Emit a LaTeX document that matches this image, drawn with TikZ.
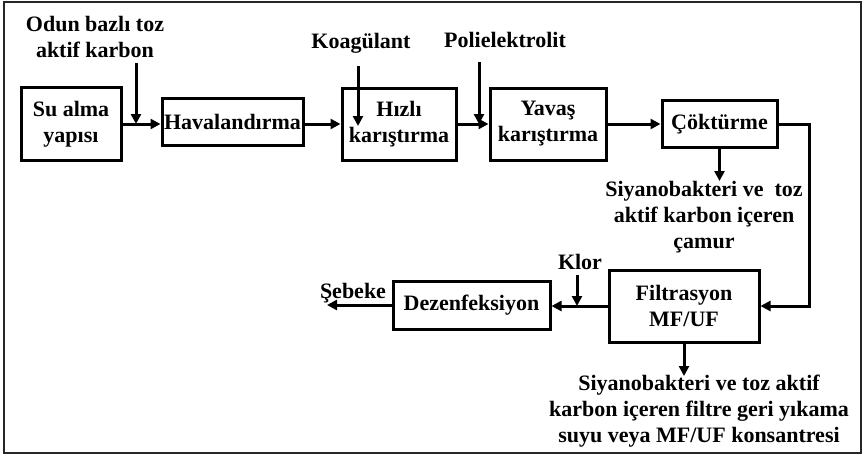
\documentclass[tikz,border=0pt]{standalone}
\usepackage{fontspec}
\setmainfont{Liberation Serif}
\usetikzlibrary{arrows.meta}
\begin{document}
\begin{tikzpicture}[x=1pt,y=-1pt,
  yazi/.style={font=\bfseries\fontsize{22}{26}\selectfont},
  blok/.style={draw, line width=3pt, inner sep=0pt, align=center, yazi},
  etiket/.style={inner sep=0pt, align=center, yazi},
  ok/.style={line width=3pt, -{Triangle[length=10pt,width=10pt]}},
]
\useasboundingbox (0,0) rectangle (864,455);
% outer frame
\draw[line width=2pt, black!85] (4,1.5) rectangle (861,453);

% process units
\node[blok, minimum width=100pt, minimum height=73pt] (su)  at (71,124)    {Su alma\\yapısı};
\node[blok, minimum width=141pt, minimum height=47pt] (hav) at (232.5,122) {Havalandırma};
\node[blok, minimum width=114pt, minimum height=72pt] (hiz) at (399,124)   {Hızlı\\karıştırma};
\node[blok, minimum width=116pt, minimum height=72pt] (yav) at (548,124)   {Yavaş\\karıştırma};
\node[blok, minimum width=115pt, minimum height=47pt] (cok) at (719.5,124) {Çöktürme};
\node[blok, minimum width=150pt, minimum height=72pt] (fil) at (684,306)   {Filtrasyon\\MF/UF};
\node[blok, minimum width=157pt, minimum height=48pt] (dez) at (471.5,305) {Dezenfeksiyon};

% chemical dosing and by-product labels
\node[etiket] (odun) at (95,36.5) {Odun bazlı toz\\aktif karbon};
\node[etiket] (koag) at (361,43)  {Koagülant};
\node[etiket] (poli) at (505,40)  {Polielektrolit};
\node[etiket] (camur) at (704,217) {Siyanobakteri ve\ \ toz\\aktif karbon içeren\\çamur};
\node[etiket] (klor) at (580,262) {Klor};
\node[etiket] (seb) at (353,293)  {Şebeke};
\node[etiket] (yika) at (699,411) {Siyanobakteri ve toz aktif\\karbon içeren filtre geri yıkama\\suyu veya MF/UF konsantresi};

% helper points
\coordinate (odunA) at (136,63);
\coordinate (koagA) at (358,66);
\coordinate (koagB) at (358,126);
\coordinate (poliA) at (479,62);
\coordinate (donus) at (809,124);
\coordinate (klorA) at (577,275);
\coordinate (sebA)  at (327,305);
\coordinate (camurA) at (719.5,181);
\coordinate (yikaA) at (684,376);

% main line
\draw[ok] (su.east) -- (su.east -| hav.west);
\draw[ok] (hav.east |- su.east) -- (su.east -| hiz.west);
\draw[ok] (hiz.east) -- (yav.west);
\draw[ok] (yav.east) -- (cok.west);
\draw[ok] (cok.east) -- (donus) |- (fil.east);
\draw[ok] (fil.west) -- (fil.west -| dez.east);
\draw[ok] (dez.west) -- (sebA);

% dosing arrows
\draw[ok] (odunA) -- (odunA |- su.east);
\draw[ok] (koagA) -- (koagB);
\draw[ok] (poliA) -- (poliA |- hiz.east);
\draw[ok] (klorA) -- (klorA |- fil.west);

% sludge / backwash outlets
\draw[ok] (cok.south) -- (camurA);
\draw[ok] (fil.south) -- (yikaA);
\end{tikzpicture}
\end{document}
